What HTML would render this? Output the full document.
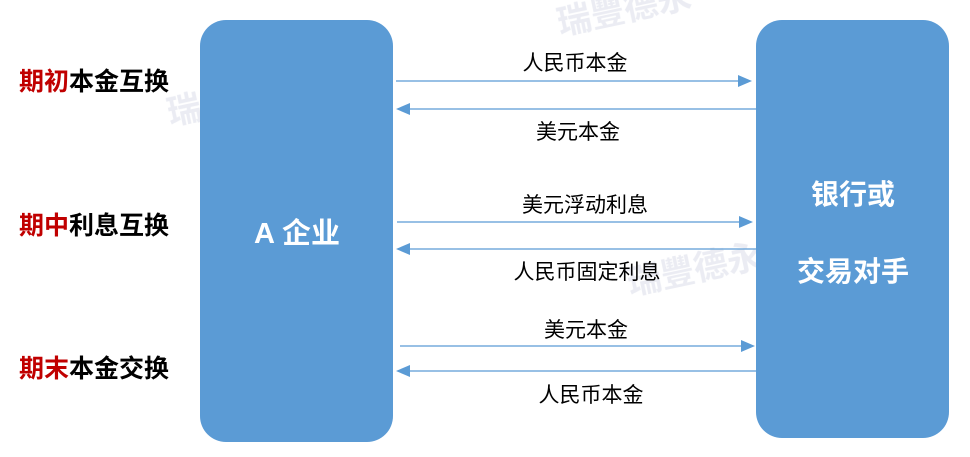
<!DOCTYPE html>
<html><head><meta charset="utf-8"><style>
body{margin:0;background:#fff;}
svg{display:block;font-family:"Liberation Sans","Noto Sans CJK SC",sans-serif;}
</style></head><body>
<svg width="970" height="457" viewBox="0 0 970 457" xmlns="http://www.w3.org/2000/svg">
<g fill="#e6e8f0" font-weight="bold" opacity="0.8">
<text x="170" y="125" font-size="34" transform="rotate(-12 170 125)">瑞豐德永</text>
<text x="630" y="295" font-size="34" transform="rotate(-12 630 295)">瑞豐德永</text>
<text x="220" y="390" font-size="34" transform="rotate(-12 220 390)">瑞豐德永</text>
<text x="560" y="35" font-size="34" transform="rotate(-12 560 35)">瑞豐德永</text>
</g>
<rect x="200" y="20" width="193" height="422" rx="26" fill="#5b9bd5"/>
<rect x="756" y="20" width="193" height="418" rx="26" fill="#5b9bd5"/>
<text x="297" y="243" font-size="29" font-weight="bold" fill="#fff" text-anchor="middle">A 企业</text>
<text x="853" y="204" font-size="28" font-weight="bold" fill="#fff" text-anchor="middle">银行或</text>
<text x="853" y="281" font-size="28" font-weight="bold" fill="#fff" text-anchor="middle">交易对手</text>
<g font-size="25" font-weight="bold" fill="#000">
<text x="19" y="90"><tspan fill="#c00000">期初</tspan>本金互换</text>
<text x="19" y="234"><tspan fill="#c00000">期中</tspan>利息互换</text>
<text x="19" y="377"><tspan fill="#c00000">期末</tspan>本金交换</text>
</g>
<g stroke="#5b9bd5" stroke-width="1.3">
<line x1="396" y1="81" x2="740" y2="81"/>
<line x1="408" y1="109" x2="756" y2="109"/>
<line x1="397" y1="222" x2="741" y2="222"/>
<line x1="408" y1="249" x2="756" y2="249"/>
<line x1="400" y1="346" x2="743" y2="346"/>
<line x1="408" y1="371" x2="756" y2="371"/>
</g>
<g fill="#5b9bd5">
<polygon points="738,75 752,81 738,87"/>
<polygon points="410,103 396,109 410,115"/>
<polygon points="739,216 753,222 739,228"/>
<polygon points="410,243 396,249 410,255"/>
<polygon points="741,340 755,346 741,352"/>
<polygon points="410,365 396,371 410,377"/>
</g>
<g font-size="21" fill="#000" text-anchor="middle">
<text x="575" y="70">人民币本金</text>
<text x="578" y="139">美元本金</text>
<text x="585" y="212">美元浮动利息</text>
<text x="587" y="279">人民币固定利息</text>
<text x="586" y="337">美元本金</text>
<text x="591" y="402">人民币本金</text>
</g>
</svg>
</body></html>
